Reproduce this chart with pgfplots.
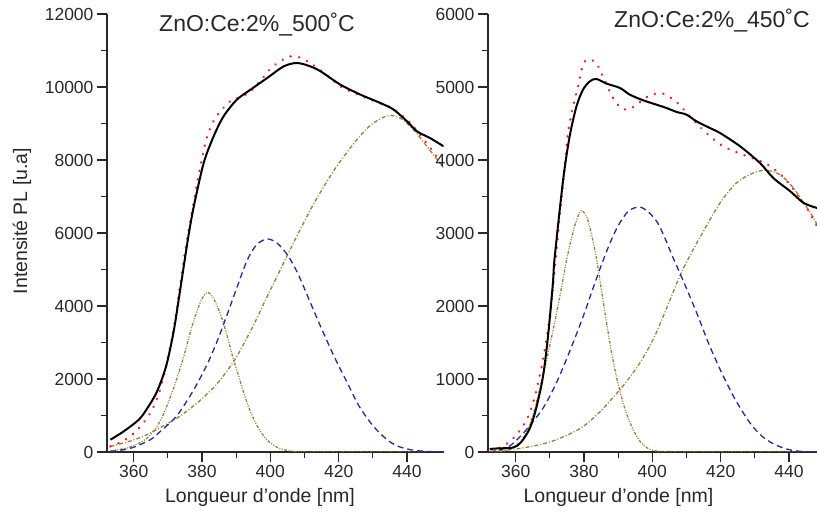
\documentclass[border=0pt]{standalone}
\usepackage{fontspec}
\setmainfont{Liberation Sans}
\usepackage{pgfplots}
\pgfplotsset{compat=1.18}
\definecolor{olivec}{RGB}{150,128,60}
\definecolor{navyc}{RGB}{40,40,150}
\definecolor{redc}{RGB}{255,30,30}
\definecolor{axc}{RGB}{40,40,40}
\pgfplotsset{
 mystyle/.style={
   scale only axis, axis x line*=bottom, axis y line*=left,
   tick align=outside, major tick length=10pt, minor tick length=6pt,
   minor x tick num=1, minor y tick num=1,
   axis line style={line width=1.2pt, color=axc},
   every tick/.style={line width=1.2pt, color=axc},
   tick label style={font=\fontsize{17.5}{17.5}\selectfont, color=axc},
   scaled y ticks=false, scaled x ticks=false,
   /pgf/number format/assume math mode=true,
   /pgf/number format/1000 sep={},
   height=438pt, ymin=0, xtick={360,380,...,440},
   anchor=south west,
 },
 fitline/.style={black, line width=2pt, smooth},
 sumline/.style={redc, line width=2.6pt, dash pattern=on 0.1pt off 8.5pt, line cap=round, smooth},
 gblue/.style={navyc, line width=1.3pt, dash pattern=on 6pt off 4pt, smooth},
 gnarrow/.style={olivec, line width=1.3pt, dash pattern=on 3pt off 1.5pt on 1pt off 1.5pt on 1pt off 1.5pt, smooth},
 gbroad/.style={olivec, line width=1.3pt, dash pattern=on 4pt off 2pt on 1pt off 2pt, smooth},
}
\begin{document}
\begin{tikzpicture}
\path[use as bounding box] (0,0) rectangle (817pt,513pt);
% left panel
\begin{axis}[mystyle, at={(107pt,61pt)}, width=336.6pt,
  xmin=352.2, xmax=450.7, ymax=12000, ytick={0,2000,...,12000}]
\addplot[gbroad] coordinates {(353.2,153)(356,220)(360,330)(364,480)(368,680)(372.7,930)(376,1150)(380,1460)(384.4,1870)(389.3,2483)(393,3100)(396,3650)(398.5,4150)(401.5,4720)(404.9,5380)(408.5,6050)(412.7,6800)(418.5,7700)(424.4,8450)(429.3,8950)(434.2,9210)(438,9150)(441.9,8831)(445.8,8374)(449.6,7919)(450.7,7782)};
\addplot[gnarrow] coordinates {(353.2,30)(358,110)(362,260)(364.5,430)(366.8,700)(368.8,1050)(371.7,1750)(374.6,2600)(377.1,3450)(379.5,4100)(381.5,4373)(383.4,4200)(385.5,3750)(387.3,3200)(389,2600)(390.5,2150)(392.3,1600)(394.2,1100)(396.5,650)(399,337)(401.5,150)(404,63)(407,15)(410,2)(415,0)(450.7,0)};
\addplot[gblue] coordinates {(353.2,16)(357,60)(360,130)(364.9,337)(368,580)(372.7,1000)(377.6,1707)(381.5,2400)(384.5,3050)(387.5,3800)(390,4450)(393.2,5250)(396,5680)(399.1,5836)(402,5720)(405,5400)(408,4900)(411,4250)(414.7,3441)(418.5,2650)(422.5,1900)(426,1250)(430.2,701)(434,350)(437,170)(441,63)(445,20)(450.7,5)};
\addplot[sumline] coordinates {(353.2,153)(356,260)(359,428)(362,700)(364.9,1069)(367,1500)(368.8,2071)(370.5,2800)(371.7,3351)(373.7,4630)(375.6,5817)(377.6,6850)(379.5,7825)(381.5,8647)(383.9,9151)(387.8,9579)(391,9720)(393.7,9836)(396.1,10064)(400,10493)(403,10713)(405.9,10839)(408.8,10800)(411.7,10658)(414.7,10457)(420.5,10018)(423.9,9864)(428,9700)(432.6,9543)(435.9,9406)(438.8,9196)(441.5,8968)(444.9,8557)(447.9,8193)(450.7,7782)};
\addplot[fitline] coordinates {(353.2,337)(357,560)(361.5,885)(364,1200)(366.8,1650)(369.5,2350)(371.7,3300)(373.3,4250)(374.6,5050)(376,5900)(377.6,6729)(380.5,7919)(383.4,8647)(386.3,9195)(390.2,9653)(394.2,9927)(399.1,10248)(403.9,10565)(407.8,10658)(411.7,10565)(414.7,10430)(420.5,10064)(426.4,9790)(432.2,9561)(436.1,9379)(440,9058)(442.9,8785)(446.7,8603)(450.7,8374)};
\end{axis}
% right panel
\begin{axis}[mystyle, at={(488pt,61pt)}, width=329pt,
  xmin=351.9, xmax=448.2, ymax=6000, ytick={0,1000,...,6000}]
\addplot[gbroad] coordinates {(352.4,5)(360,40)(367,100)(372,170)(378.8,320)(384,520)(390.5,853)(395.8,1180)(400.2,1538)(404,1950)(408,2406)(410.9,2680)(414.9,3020)(419.8,3411)(424.6,3685)(429.5,3822)(433.4,3858)(437.4,3799)(441.3,3617)(444.3,3411)(447.2,3206)(448.2,3110)};
\addplot[gnarrow] coordinates {(352.4,0)(357,20)(361,120)(363,260)(365,500)(367,850)(369,1250)(371,1680)(373,2150)(375,2650)(377,3050)(378.5,3260)(379.3,3310)(380.8,3220)(382.2,2980)(383.6,2660)(385,2250)(386.5,1800)(388,1380)(389.5,1030)(391,750)(392.5,520)(394.4,305)(396.5,140)(399.3,35)(403,5)(408,0)(448.2,0)};
\addplot[gblue] coordinates {(352.4,0)(357.2,55)(360,150)(363.1,305)(368,600)(371.9,945)(376,1400)(379.7,1850)(382.7,2250)(385,2550)(387.5,2850)(390,3100)(393,3300)(396.3,3356)(399,3280)(401.4,3150)(403.5,2950)(406.1,2658)(409,2350)(413,1904)(416.8,1450)(420.8,1036)(424.5,700)(428.6,397)(432,220)(435.5,110)(439.3,41)(443,10)(448.2,0)};
\addplot[sumline] coordinates {(353,5)(357.3,110)(360.7,260)(364.1,534)(367,1036)(370,1858)(372.9,3232)(374.2,3822)(375.3,4370)(376.8,4735)(378.5,5055)(379.1,5206)(380.5,5365)(383.4,5343)(385.1,5183)(386.7,5032)(388.2,4872)(390.6,4721)(392.5,4690)(394.8,4735)(398.9,4877)(403.1,4909)(407.2,4790)(410.3,4635)(413.4,4478)(416.8,4328)(420.8,4187)(425,4100)(429.1,4028)(433.3,3950)(437.4,3809)(440.4,3655)(443,3494)(445.2,3343)(447.2,3183)(448.2,3091)};
\addplot[fitline] coordinates {(352.4,41)(355,50)(359.2,60)(361.5,130)(364.1,320)(366,600)(368,1036)(369.5,1600)(370.9,2315)(371.4,2658)(373.9,3731)(375.8,4324)(377.8,4735)(379.7,4963)(381.7,5077)(383.6,5110)(386.6,5046)(390.5,4987)(393.4,4895)(397.3,4818)(401.2,4758)(404.1,4713)(407.1,4658)(410,4621)(412.9,4530)(416.8,4439)(419.8,4370)(425.7,4187)(431.5,3959)(435.4,3754)(440.4,3570)(444.3,3411)(448.2,3343)};
\end{axis}
% titles and labels
\node[font=\fontsize{23}{23}\selectfont, text=axc] at (257pt,488pt) {ZnO:Ce:2\%\_500˚C};
\node[font=\fontsize{23}{23}\selectfont, text=axc] at (712pt,492pt) {ZnO:Ce:2\%\_450˚C};
\node[font=\fontsize{19.5}{19.5}\selectfont, text=axc, rotate=90] at (22pt,292pt) {Intensité PL [u.a]};
\node[font=\fontsize{19.5}{19.5}\selectfont, text=axc, anchor=base] at (260pt,10pt) {Longueur d'onde [nm]};
\node[font=\fontsize{19.5}{19.5}\selectfont, text=axc, anchor=base] at (618.5pt,10pt) {Longueur d'onde [nm]};
\end{tikzpicture}
\end{document}
